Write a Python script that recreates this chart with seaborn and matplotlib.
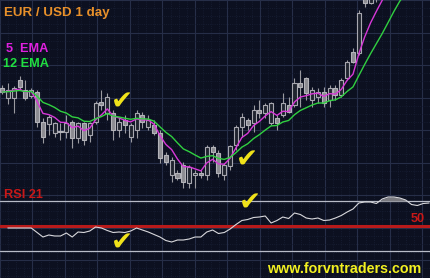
import numpy as np
import pandas as pd
import matplotlib
matplotlib.use("Agg")
import matplotlib.pyplot as plt
import seaborn as sns
from matplotlib.ticker import MultipleLocator

# ---------------- data (price in pips above a base level) ----------------
opens = [112, 102, 102, 120, 110, 104, 108, 78, 76, 67, 69, 68, 78, 62, 77, 65,
         78, 98, 87, 87, 70, 80, 63, 70, 85, 73, 75, 67, 45, 25, 27, 35, 17, 25,
         27, 25, 53, 47, 25, 34, 55, 73, 80, 77, 90, 87, 77, 82, 85, 95, 95, 117,
         122, 100, 103, 108, 100, 112, 105, 122, 148, 147, 208, 197, 205, 212,
         222, 238, 250, 255, 250, 262, 258, 268]
closes = [108, 110, 112, 113, 102, 110, 78, 63, 83, 77, 68, 77, 62, 77, 60, 77,
          97, 95, 103, 70, 78, 75, 75, 87, 78, 80, 67, 42, 38, 40, 22, 18, 33, 27,
          25, 53, 48, 27, 35, 54, 73, 83, 75, 90, 87, 95, 97, 77, 97, 88, 117, 113,
          107, 110, 108, 97, 112, 105, 120, 138, 138, 187, 197, 205, 212, 222,
          238, 250, 255, 250, 262, 258, 268, 265]
highs = [115, 117, 114, 124, 120, 112, 110, 82, 85, 78, 77, 85, 80, 78, 78, 78,
         99, 110, 107, 90, 83, 85, 77, 90, 88, 85, 80, 70, 48, 43, 30, 38, 35, 30,
         30, 55, 55, 50, 37, 55, 75, 87, 82, 95, 100, 97, 98, 85, 107, 103, 122,
         130, 123, 113, 112, 113, 115, 115, 122, 140, 152, 190, 212, 215, 225,
         230, 245, 255, 262, 265, 270, 272, 278, 280]
lows = [106, 96, 87, 110, 100, 102, 73, 57, 65, 63, 60, 62, 52, 57, 55, 58, 76,
        90, 80, 60, 63, 67, 58, 62, 72, 70, 65, 37, 35, 18, 20, 12, 12, 12, 22,
        20, 38, 23, 20, 30, 50, 63, 70, 68, 82, 82, 75, 70, 83, 87, 93, 93, 100,
        93, 97, 93, 93, 100, 103, 120, 137, 145, 193, 196, 198, 205, 215, 230,
        240, 242, 245, 250, 252, 258]
rsi_values = [np.nan, 48.4, 48.4, 48.4, 48.4, 48.4, 44.8, 41.2, 42.8, 42.0, 42.0,
              44.4, 41.2, 45.2, 44.8, 46.0, 49.2, 48.4, 46.4, 44.8, 45.2, 44.8,
              46.0, 48.4, 46.8, 45.2, 43.2, 41.2, 38.4, 37.2, 38.8, 38.8, 39.6,
              41.2, 41.2, 45.2, 46.8, 44.0, 44.8, 47.6, 51.2, 54.4, 55.2, 56.8,
              57.2, 58.0, 52.4, 54.4, 57.2, 56.0, 60.4, 59.2, 56.4, 55.6, 56.4,
              54.4, 54.8, 56.4, 58.4, 61.2, 63.6, 68.4, 69.2, 69.2, 68.0, 71.6,
              73.2, 73.2, 72.4, 70.8, 67.2, 66.4, 68.0, 68.4]
rsi_levels = [30, 50, 70]
ema_spans = {"5  EMA": 5, "12 EMA": 12}

# ---------------- styling ----------------
W, H = 431, 278
BG = "#0c1020"
MAIN_H = 192  # pixel height of price panel
SPACING = 5.85  # px per candle
X0 = 2.0

sns.set_theme(style="dark")
plt.rcParams["font.family"] = ["Liberation Sans", "DejaVu Sans"]

fig = plt.figure(figsize=(W / 100, H / 100), dpi=100)
fig.patch.set_facecolor(BG)

# background grid spanning the whole figure
bg = fig.add_axes([0, 0, 1, 1])
bg.set_xlim(0, W)
bg.set_ylim(H, 0)
bg.set_facecolor(BG)
bg.xaxis.set_major_locator(MultipleLocator(32.5))
bg.xaxis.set_minor_locator(MultipleLocator(32.5 / 4))
bg.yaxis.set_major_locator(MultipleLocator(32.5))
bg.yaxis.set_minor_locator(MultipleLocator(32.5 / 4))
bg.grid(which="major", color="#262e48", lw=0.8, ls="-")
bg.grid(which="minor", color="#192036", lw=0.6, ls=":")
bg.tick_params(which="both", length=0, labelbottom=False, labelleft=False)
for s in bg.spines.values():
    s.set_visible(False)

xlim = (-X0 / SPACING, (W - X0) / SPACING)

df = pd.DataFrame({"open": opens, "close": closes, "high": highs, "low": lows})
df["idx"] = np.arange(len(df))
df["rsi"] = rsi_values

# ---------------- price panel ----------------
ax = fig.add_axes([0, (H - MAIN_H) / H, 1, MAIN_H / H])
ax.set_facecolor("none")

up = df["close"] >= df["open"]
ax.vlines(df["idx"], df["low"], df["high"], color="#9a9aa0", lw=0.8, zorder=2)
bot = np.minimum(df["open"], df["close"])
hgt = np.maximum(np.abs(df["close"] - df["open"]), 0.8)
ax.bar(df["idx"][up], hgt[up], bottom=bot[up], width=0.7,
       color="#20242f", edgecolor="#a8a8b0", lw=0.8, zorder=3)
ax.bar(df["idx"][~up], hgt[~up], bottom=bot[~up], width=0.7,
       color="#8c8c92", edgecolor="#b4b4ba", lw=0.8, zorder=3)

ema_colors = {"5  EMA": "#d838d8", "12 EMA": "#30d040"}
for name, span in ema_spans.items():
    df[name] = df["close"].ewm(span=span, adjust=False).mean()
    sns.lineplot(data=df, x="idx", y=name, ax=ax, color=ema_colors[name],
                 lw=1.0, zorder=4)
ax.axis("off")
ax.set_xlim(*xlim)
ax.set_ylim(8, 200)

# ---------------- RSI panel ----------------
rax = fig.add_axes([0, 0, 1, (H - MAIN_H) / H])
rax.set_facecolor("none")
rax.axhline(rsi_levels[2], color="#b8bcc8", lw=0.9, zorder=1)
rax.axhline(rsi_levels[0], color="#b8bcc8", lw=0.9, zorder=1)
rax.axhline(rsi_levels[1], color="#b81a1a", lw=2.2, zorder=2)
r = df["rsi"].to_numpy()
rax.fill_between(df["idx"], rsi_levels[2], r, where=r > rsi_levels[2],
                 interpolate=True, color="#7a7a80", lw=0, zorder=2)
sns.lineplot(data=df, x="idx", y="rsi", ax=rax, color="#d8d8dc", lw=0.8, zorder=3)
rax.axis("off")
rax.set_xlim(*xlim)
# pixel y = 226 - (rsi-50)*1.25 ; panel spans pixel 192..278
rax.set_ylim(50 - (278 - 226) / 1.25, 50 + (226 - 192) / 1.25)

# ---------------- texts ----------------
def ftext(px, py, s, **kw):
    fig.text(px / W, 1 - py / H, s, **kw)

ftext(4, 16, "EUR / USD 1 day", color="#e8902a", fontsize=9.6, fontweight="bold", va="baseline")
ftext(6, 52, "5  EMA", color="#e020e0", fontsize=9.2, fontweight="bold", va="baseline")
ftext(3, 67, "12 EMA", color="#20e040", fontsize=9.2, fontweight="bold", va="baseline")
ftext(4, 198, "RSI 21", color="#c81818", fontsize=9.2, fontweight="bold", va="baseline")
ftext(411, 222, "50", color="#c81818", fontsize=9.2, fontweight="bold", va="baseline")
ftext(267, 273, "www.forvntraders.com", color="#f2f020", fontsize=10.3, fontweight="bold", va="baseline")

for cx, cy in [(122, 103), (247, 161), (122, 244), (250, 204)]:
    ftext(cx, cy, "\u2714", color="#f0e21a", fontsize=19, ha="center", va="center",
          family=["DejaVu Sans"])

fig.savefig("out.png", dpi=100, facecolor=BG)
